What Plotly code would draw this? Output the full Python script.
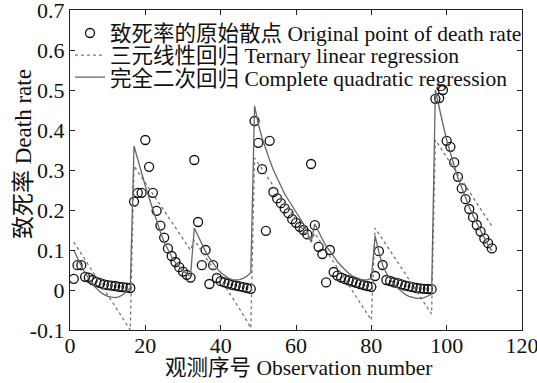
import plotly.graph_objects as go

obs_no = list(range(1, 113))

death_rate = [
    0.028, 0.062, 0.062, 0.033, 0.031, 0.025, 0.020, 0.017, 0.014, 0.012, 0.011, 0.010, 0.008, 0.007, 0.006, 0.005,
    0.221, 0.243, 0.243, 0.375, 0.308, 0.243, 0.198, 0.161, 0.131, 0.104, 0.085, 0.070, 0.057, 0.046, 0.038, 0.031,
    0.325, 0.170, 0.062, 0.100, 0.015, 0.062, 0.030, 0.022, 0.019, 0.016, 0.013, 0.011, 0.009, 0.007, 0.005, 0.003,
    0.4225, 0.368, 0.302, 0.148, 0.373, 0.245, 0.229, 0.217, 0.204, 0.192, 0.177, 0.168, 0.158, 0.150, 0.139, 0.315,
    0.162, 0.108, 0.090, 0.019, 0.100, 0.045, 0.036, 0.031, 0.027, 0.024, 0.021, 0.018, 0.015, 0.012, 0.010, 0.008,
    0.035, 0.097, 0.0625, 0.025, 0.0225, 0.019, 0.017, 0.014, 0.011, 0.009, 0.007, 0.005, 0.004, 0.003, 0.0025, 0.002,
    0.478, 0.480, 0.500, 0.373, 0.358, 0.319, 0.283, 0.254, 0.227, 0.2025, 0.182, 0.1625, 0.146, 0.129, 0.117, 0.104,
]

linear_fit = [
    0.120, 0.105, 0.091, 0.076, 0.061, 0.047, 0.032, 0.017, 0.003, -0.012, -0.027, -0.041, -0.056, -0.071, -0.085, -0.100,
    0.310, 0.296, 0.282, 0.268, 0.254, 0.240, 0.226, 0.212, 0.198, 0.184, 0.170, 0.156, 0.142, 0.128, 0.114, 0.100,
    0.125, 0.111, 0.096, 0.082, 0.068, 0.054, 0.039, 0.025, 0.011, -0.004, -0.018, -0.032, -0.047, -0.061, -0.078, -0.095,
    0.330, 0.316, 0.302, 0.288, 0.274, 0.260, 0.246, 0.232, 0.218, 0.204, 0.190, 0.176, 0.162, 0.148, 0.134, 0.120,
    0.142, 0.128, 0.113, 0.099, 0.084, 0.070, 0.055, 0.041, 0.026, 0.012, -0.003, -0.017, -0.032, -0.046, -0.061, -0.075,
    0.155, 0.141, 0.126, 0.112, 0.098, 0.083, 0.069, 0.055, 0.040, 0.026, 0.012, -0.003, -0.017, -0.031, -0.046, -0.060,
    0.375, 0.361, 0.346, 0.332, 0.318, 0.303, 0.289, 0.275, 0.260, 0.246, 0.232, 0.217, 0.203, 0.189, 0.174, 0.160,
]

quad_fit = [
    0.100, 0.078, 0.060, 0.043, 0.028, 0.015, 0.004, -0.005, -0.011, -0.016, -0.018, -0.019, -0.017, -0.012, -0.004, 0.006,
    0.360, 0.325, 0.290, 0.260, 0.230, 0.200, 0.170, 0.145, 0.120, 0.100, 0.083, 0.068, 0.057, 0.048, 0.040, 0.035,
    0.155, 0.135, 0.115, 0.096, 0.080, 0.066, 0.054, 0.044, 0.036, 0.030, 0.026, 0.025, 0.026, 0.029, 0.035, 0.043,
    0.460, 0.415, 0.380, 0.350, 0.325, 0.300, 0.280, 0.260, 0.240, 0.225, 0.210, 0.197, 0.183, 0.165, 0.145, 0.120,
    0.165, 0.145, 0.127, 0.110, 0.096, 0.083, 0.071, 0.060, 0.050, 0.042, 0.035, 0.030, 0.027, 0.025, 0.026, 0.029,
    0.135, 0.095, 0.062, 0.042, 0.028, 0.015, 0.005, -0.004, -0.011, -0.016, -0.019, -0.021, -0.021, -0.019, -0.015, -0.010,
    0.500, 0.455, 0.415, 0.375, 0.340, 0.310, 0.280, 0.255, 0.230, 0.207, 0.186, 0.167, 0.150, 0.128, 0.112, 0.098,
]

x_ticks = [0, 20, 40, 60, 80, 100, 120]
y_ticks = [-0.1, 0, 0.1, 0.2, 0.3, 0.4, 0.5, 0.6, 0.7]
y_tick_text = ["-0.1", "0", "0.1", "0.2", "0.3", "0.4", "0.5", "0.6", "0.7"]

FONT = "'Liberation Serif', 'Times New Roman', 'Noto Sans CJK SC', serif"

fig = go.Figure()
fig.add_trace(go.Scatter(
    x=obs_no, y=death_rate, mode="markers",
    name="致死率的原始散点 Original point of death rate",
    marker=dict(symbol="circle-open", size=9, color="#111", line=dict(width=1.3, color="#111")),
    legend="legend",
))
fig.add_trace(go.Scatter(
    x=obs_no, y=linear_fit, mode="lines",
    name="三元线性回归 Ternary linear regression",
    line=dict(color="#777", width=1.3, dash="dot"),
    legend="legend2",
))
fig.add_trace(go.Scatter(
    x=obs_no, y=quad_fit, mode="lines",
    name="完全二次回归 Complete quadratic regression",
    line=dict(color="#666", width=1.3),
    legend="legend3",
))

axis_common = dict(
    showgrid=False, zeroline=False, showline=True, linecolor="#222", linewidth=1.2,
    mirror="ticks", ticks="inside", ticklen=5, tickcolor="#222", tickwidth=1,
    tickfont=dict(family=FONT, size=22, color="#111"),
    automargin=False, ticklabeloverflow="allow",
)

def leg(yc):
    return dict(
        x=0.0, y=yc, xanchor="left", yanchor="middle",
        bgcolor="rgba(0,0,0,0)", borderwidth=0,
        font=dict(family=FONT, size=21.5, color="#111"),
        itemwidth=30,
    )

fig.update_layout(
    template="none",
    width=537, height=383,
    margin=dict(l=70, r=15, t=10, b=53, autoexpand=False),
    paper_bgcolor="white", plot_bgcolor="white",
    font=dict(family=FONT, color="#111"),
    showlegend=True,
    legend=leg(0.928),
    legend2=leg(0.859),
    legend3=leg(0.790),
    xaxis=dict(range=[0, 120], tickvals=x_ticks, ticklabelstandoff=-5, **axis_common),
    yaxis=dict(range=[-0.1, 0.7], tickvals=y_ticks, ticktext=y_tick_text, **axis_common),
    annotations=[
        dict(text="观测序号 Observation number", xref="paper", yref="paper",
             x=0.507, y=-0.118, xanchor="center", yanchor="middle", showarrow=False,
             font=dict(family=FONT, size=21.5, color="#111")),
        dict(text="致死率 Death rate", xref="paper", yref="paper",
             x=-0.104, y=0.55, xanchor="center", yanchor="middle", showarrow=False,
             textangle=-90, font=dict(family=FONT, size=23, color="#111")),
    ],
)

fig.write_html(
    "out.html",
    config={"displayModeBar": False},
    post_script="document.body.style.margin='0px';document.body.style.overflow='hidden';",
)
